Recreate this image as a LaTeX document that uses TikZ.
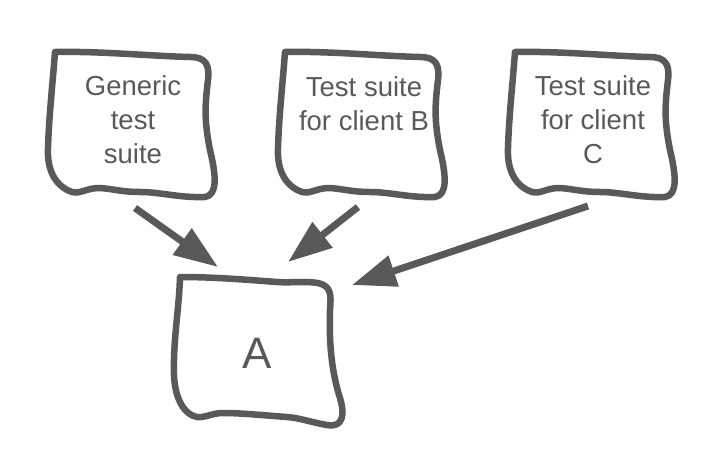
\documentclass[tikz,border=0pt]{standalone}
\usepackage{fontspec}
\setmainfont{Liberation Sans}
\usetikzlibrary{arrows.meta}
\definecolor{ink}{RGB}{89,89,89}
\tikzset{
  boxline/.style={draw=ink, line width=6.5pt, line join=round, line cap=round},
  label/.style={text=ink, inner sep=0pt, align=center, font=\fontsize{27.5}{34}\selectfont},
  biglabel/.style={text=ink, inner sep=0pt, font=\fontsize{44}{50}\selectfont},
  conn/.style={draw=ink, line width=7pt, -{Triangle[length=44pt, width=31pt]}},
  wobble/.pic={
    \path[boxline] (55,52) .. controls (100,51) and (150,56) .. (190,57)
      .. controls (205,57) and (210,64) .. (208,80)
      .. controls (205,105) and (204,120) .. (210,150)
      .. controls (216,175) and (218,195) .. (205,197)
      .. controls (180,198) and (160,192) .. (140,192)
      .. controls (120,192) and (110,188) .. (97,188)
      .. controls (85,189) and (80,194) .. (72,192)
      .. controls (55,186) and (47,170) .. (48,148)
      .. controls (49,115) and (53,80) .. (55,52) -- cycle;
  }
}
\begin{document}
\begin{tikzpicture}[x=1pt, y=-1pt]
\useasboundingbox (0,0) rectangle (718,458);
% top boxes
\pic at (0,0) {wobble};
\pic at (230,0) {wobble};
\pic at (460,0) {wobble};
\node[label] (gen) at (133,120) {Generic\\test\\suite};
\node[label] (clb) at (364,103.5) {Test suite\\for client B};
\node[label] (clc) at (593,120) {Test suite\\for client\\C};
% bottom box A
\path[boxline] (180,277) .. controls (215,277) and (250,280) .. (277,282)
  .. controls (290,283) and (305,281) .. (318,283)
  .. controls (332,286) and (331,296) .. (330,310)
  .. controls (329,340) and (331,370) .. (340,398)
  .. controls (345,415) and (343,428) .. (327,425)
  .. controls (310,422) and (300,418) .. (287,417)
  .. controls (260,415) and (240,413) .. (223,413)
  .. controls (212,413) and (205,418) .. (197,417)
  .. controls (185,415) and (175,400) .. (174,375)
  .. controls (173,340) and (179,310) .. (180,277) -- cycle;
\node[biglabel] (a) at (257,353) {A};
% connectors
\coordinate (s1) at (135,208);
\coordinate (t1) at (218,267);
\coordinate (s2) at (358,207);
\coordinate (t2) at (288,262);
\coordinate (s3) at (588,206);
\coordinate (t3) at (352,285);
\draw[conn] (s1) -- (t1);
\draw[conn] (s2) -- (t2);
\draw[conn] (s3) -- (t3);
\end{tikzpicture}
\end{document}
